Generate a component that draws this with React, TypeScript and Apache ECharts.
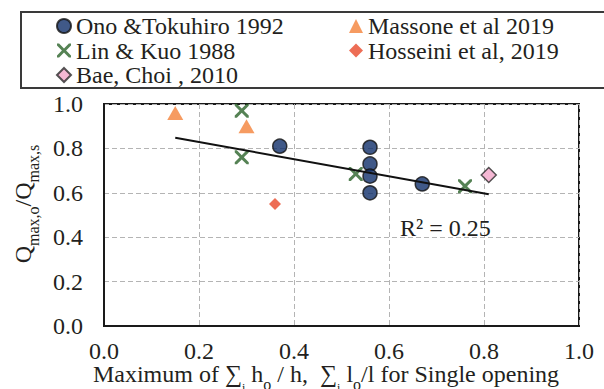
import React, { useEffect, useRef } from "react";
import * as echarts from "echarts";

const FONT = "Liberation Serif";
const INK = "#231f20";

// ---- data ----
const onoX = [0.37, 0.56, 0.56, 0.56, 0.56, 0.67];
const onoY = [0.81, 0.805, 0.73, 0.675, 0.6, 0.64];
const massoneX = [0.15, 0.3];
const massoneY = [0.96, 0.9];
const linX = [0.29, 0.29, 0.53, 0.76];
const linY = [0.97, 0.76, 0.685, 0.63];
const hosseiniX = [0.36];
const hosseiniY = [0.55];
const baeX = [0.81];
const baeY = [0.68];
const trendX = [0.15, 0.81];
const trendY = [0.848, 0.593];
const seriesNames = [
  "Ono &Tokuhiro 1992",
  "Massone et al 2019",
  "Lin & Kuo 1988",
  "Hosseini et al, 2019",
  "Bae, Choi , 2010",
];
const xTicks = [0, 0.2, 0.4, 0.6, 0.8, 1.0];
const yTicks = [0, 0.2, 0.4, 0.6, 0.8, 1.0];
const r2Label = "R² = 0.25";

const zip = (xs: number[], ys: number[]) => xs.map((x, i) => [x, ys[i]]);

const X_PATH =
  "path://M0,0 L1.5,0 L5,3.5 L8.5,0 L10,0 L10,1.5 L6.5,5 L10,8.5 L10,10 L8.5,10 L5,6.5 L1.5,10 L0,10 L0,8.5 L3.5,5 L0,1.5 Z";

let ctx: CanvasRenderingContext2D | null = null;
function measure(text: string, size: number) {
  if (!ctx) ctx = document.createElement("canvas").getContext("2d");
  if (!ctx) return text.length * size * 0.5;
  ctx.font = `${size}px Liberation Serif`;
  return ctx.measureText(text).width;
}

type Run = { t: string; size?: number; drop?: number };
function buildRun(runs: Run[], main: number) {
  let x = 0;
  const children: any[] = [];
  for (const r of runs) {
    const size = r.size ?? main;
    const base = r.drop ?? 0;
    children.push({
      type: "text",
      x,
      y: base - 0.3375 * size,
      style: {
        text: r.t,
        fontSize: size,
        fontFamily: FONT,
        fill: INK,
        align: "left",
        verticalAlign: "middle",
        textAlign: "left",
        textVerticalAlign: "middle",
      },
    });
    x += measure(r.t, size);
  }
  return { children, width: x };
}

export default function App() {
  const ref = useRef<HTMLDivElement>(null);
  useEffect(() => {
    if (!ref.current) return;
    const chart = echarts.init(ref.current, undefined, { renderer: "svg" });

    const yTitle = buildRun(
      [
        { t: "Q" },
        { t: "max,o", size: 16, drop: 8 },
        { t: "/Q" },
        { t: "max,s", size: 16, drop: 8 },
      ],
      24
    );
    const xTitle = buildRun(
      [
        { t: "Maximum of " },
        { t: "∑" },
        { t: "i", size: 12, drop: 10 },
        { t: " h" },
        { t: "o", size: 16, drop: 8 },
        { t: " / h,  " },
        { t: "∑" },
        { t: "i", size: 12, drop: 10 },
        { t: " l" },
        { t: "o", size: 16, drop: 8 },
        { t: "/l for Single opening" },
      ],
      24
    );

    const yCenter = 204;
    const xCenter = 326;

    const legendCommon = {
      orient: "vertical",
      top: 14,
      padding: 0,
      itemGap: 0.5,
      itemWidth: 14,
      itemHeight: 14,
      textStyle: { fontSize: 24, fontFamily: FONT, color: INK, lineHeight: 24 },
      selectedMode: false,
    };

    const option: any = {
      animation: false,
      backgroundColor: "#ffffff",
      textStyle: { fontFamily: FONT },
      grid: {
        left: 104,
        top: 104,
        right: 25,
        bottom: 63,
        show: true,
        borderColor: "#1a1a1a",
        borderWidth: 2,
        containLabel: false,
      },
      legend: [
        { ...legendCommon, left: 56, data: [seriesNames[0], seriesNames[2], seriesNames[4]] },
        { ...legendCommon, left: 349, data: [seriesNames[1], seriesNames[3]] },
      ],
      xAxis: {
        type: "value",
        min: xTicks[0],
        max: xTicks[xTicks.length - 1],
        interval: 0.2,
        axisLine: { show: true, lineStyle: { color: "#1a1a1a", width: 2 } },
        axisTick: { show: false },
        axisLabel: {
          fontSize: 24,
          lineHeight: 20,
          fontFamily: FONT,
          color: INK,
          margin: 15,
          formatter: (v: number) => v.toFixed(1),
        },
        splitLine: { show: true, lineStyle: { color: "#b4b4b4", width: 1, type: [5, 3] } },
      },
      yAxis: {
        type: "value",
        min: yTicks[0],
        max: yTicks[yTicks.length - 1],
        interval: 0.2,
        axisLine: { show: true, lineStyle: { color: "#1a1a1a", width: 2 } },
        axisTick: { show: false },
        axisLabel: {
          fontSize: 24,
          fontFamily: FONT,
          color: INK,
          margin: 21,
          formatter: (v: number) => v.toFixed(1),
        },
        splitLine: { show: true, lineStyle: { color: "#b4b4b4", width: 1, type: [5, 3] } },
      },
      series: [
        {
          name: seriesNames[0],
          type: "scatter",
          data: zip(onoX, onoY),
          symbol: "circle",
          symbolSize: 14,
          itemStyle: { color: "#10306a", borderColor: "#111111", borderWidth: 1.5 },
          z: 3,
        },
        {
          name: seriesNames[1],
          type: "scatter",
          data: zip(massoneX, massoneY),
          symbol: "triangle",
          symbolSize: [16, 14],
          itemStyle: { color: "#f4823a" },
          z: 3,
        },
        {
          name: seriesNames[2],
          type: "scatter",
          data: zip(linX, linY),
          symbol: X_PATH,
          symbolSize: 14,
          itemStyle: { color: "#2a6329" },
          z: 3,
        },
        {
          name: seriesNames[3],
          type: "scatter",
          data: zip(hosseiniX, hosseiniY),
          symbol: "diamond",
          symbolSize: 12,
          itemStyle: { color: "#e8492a" },
          z: 3,
        },
        {
          name: seriesNames[4],
          type: "scatter",
          data: zip(baeX, baeY),
          symbol: "diamond",
          symbolSize: 15,
          itemStyle: { color: "#f3a6c9", borderColor: "#2a2a2a", borderWidth: 1.5 },
          z: 3,
        },
        {
          name: "trend",
          type: "line",
          data: zip(trendX, trendY),
          showSymbol: false,
          symbol: "none",
          lineStyle: { color: "#111111", width: 2 },
          z: 4,
        },
      ],
      graphic: [
        {
          type: "rect",
          shape: { x: 21, y: 12, width: 620, height: 76 },
          style: { fill: "none", stroke: "#3a3a3a", lineWidth: 2 },
          z: 1,
        },
        {
          type: "text",
          x: 400,
          y: 228,
          style: {
            text: r2Label,
            fontSize: 24,
            fontFamily: FONT,
            fill: INK,
            align: "left",
            verticalAlign: "middle",
            textAlign: "left",
            textVerticalAlign: "middle",
          },
          z: 5,
        },
        {
          type: "group",
          x: 31,
          y: yCenter + yTitle.width / 2,
          rotation: Math.PI / 2,
          children: yTitle.children,
        },
        {
          type: "group",
          x: xCenter - xTitle.width / 2,
          y: 382,
          children: xTitle.children,
        },
      ],
    };

    chart.setOption(option);
    return () => chart.dispose();
  }, []);

  return (
    <div
      ref={ref}
      style={{ position: "fixed", left: 0, top: 0, width: 604, height: 389, background: "#fff" }}
    />
  );
}
